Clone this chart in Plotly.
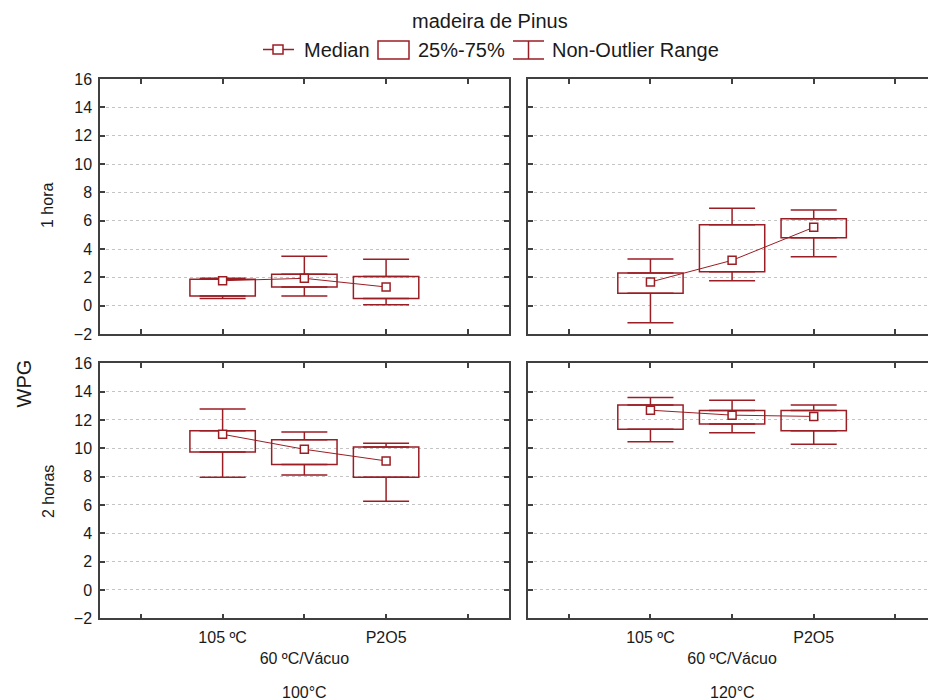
import plotly.graph_objects as go

# ---------------- data ----------------
categories = ["105 ºC", "60 ºC/Vácuo", "P2O5"]
cat_pos = [1, 2, 3]
tick_vals = [0, 1, 2, 3, 4]
tick_text = ["", "105 ºC", "<br>60 ºC/Vácuo", "P2O5", ""]
y_ticks = [-2, 0, 2, 4, 6, 8, 10, 12, 14, 16]

# 100°C, 1 hora
tl_med = [1.76, 1.93, 1.32]
tl_q1 = [0.69, 1.32, 0.50]
tl_q3 = [1.86, 2.22, 2.05]
tl_lo = [0.50, 0.69, 0.07]
tl_hi = [1.93, 3.49, 3.28]

# 120°C, 1 hora
tr_med = [1.67, 3.20, 5.53]
tr_q1 = [0.88, 2.40, 4.80]
tr_q3 = [2.31, 5.72, 6.14]
tr_lo = [-1.20, 1.76, 3.46]
tr_hi = [3.30, 6.87, 6.76]

# 100°C, 2 horas
bl_med = [10.99, 9.93, 9.11]
bl_q1 = [9.74, 8.85, 7.96]
bl_q3 = [11.24, 10.61, 10.09]
bl_lo = [7.96, 8.12, 6.27]
bl_hi = [12.77, 11.15, 10.35]

# 120°C, 2 horas
br_med = [12.69, 12.34, 12.25]
br_q1 = [11.34, 11.71, 11.24]
br_q3 = [13.05, 12.67, 12.67]
br_lo = [10.47, 11.10, 10.28]
br_hi = [13.59, 13.40, 13.05]

RED = "#9A1E24"
TXT = "#1a1a1a"
AX = "#404040"
FONT = "Liberation Sans, Arial, sans-serif"

W, H = 928, 700
def px(x):
    return x / W
def py(y):
    return 1 - y / H

fig = go.Figure()

panels = [
    ("x", "y", tl_med, tl_q1, tl_q3, tl_lo, tl_hi),
    ("x2", "y2", tr_med, tr_q1, tr_q3, tr_lo, tr_hi),
    ("x3", "y3", bl_med, bl_q1, bl_q3, bl_lo, bl_hi),
    ("x4", "y4", br_med, br_q1, br_q3, br_lo, br_hi),
]

for xa, ya, med, q1, q3, lo, hi in panels:
    # upper whisker
    fig.add_trace(go.Scatter(
        x=cat_pos, y=q3, xaxis=xa, yaxis=ya, mode="markers",
        marker=dict(size=1, color="rgba(0,0,0,0)"),
        error_y=dict(type="data", symmetric=False,
                     array=[h - q for h, q in zip(hi, q3)],
                     arrayminus=[0] * len(q3),
                     color=RED, thickness=1.5, width=23),
        showlegend=False, hoverinfo="skip"))
    # lower whisker
    fig.add_trace(go.Scatter(
        x=cat_pos, y=q1, xaxis=xa, yaxis=ya, mode="markers",
        marker=dict(size=1, color="rgba(0,0,0,0)"),
        error_y=dict(type="data", symmetric=False,
                     array=[0] * len(q1),
                     arrayminus=[q - l for q, l in zip(q1, lo)],
                     color=RED, thickness=1.5, width=23),
        showlegend=False, hoverinfo="skip"))
    # 25%-75% boxes
    fig.add_trace(go.Bar(
        x=cat_pos, y=[b - a for a, b in zip(q1, q3)], base=q1,
        xaxis=xa, yaxis=ya, width=0.8,
        marker=dict(color="rgba(0,0,0,0)", line=dict(color=RED, width=1.5)),
        showlegend=False, hoverinfo="skip"))
    # medians
    fig.add_trace(go.Scatter(
        x=cat_pos, y=med, xaxis=xa, yaxis=ya, mode="lines+markers",
        line=dict(color=RED, width=1),
        marker=dict(symbol="square", size=8, color="white",
                    line=dict(color=RED, width=1.5)),
        showlegend=False, hoverinfo="skip"))

xdom_l = [px(100), px(508.7)]
xdom_r = [px(528), 1.0]
ydom_t = [py(334), py(79)]
ydom_b = [py(618.3), py(363.3)]

def xaxis(dom, anchor, labels, rng):
    return dict(domain=dom, anchor=anchor, range=rng,
                tickvals=tick_vals, ticktext=tick_text if labels else [""] * 5,
                ticks="inside", ticklen=5, tickcolor=AX, tickwidth=1.5,
                showline=True, linecolor=AX, linewidth=1.5, mirror="allticks",
                showgrid=False, zeroline=False,
                tickfont=dict(size=16, color=TXT, family=FONT),
                ticklabelstandoff=4)

def yaxis(dom, anchor, labels, mirror):
    return dict(domain=dom, anchor=anchor, range=[-2, 16],
                tickvals=y_ticks, showticklabels=labels,
                ticks="inside", ticklen=5, tickcolor=AX, tickwidth=1.5,
                showline=True, linecolor=AX, linewidth=1.5, mirror=mirror,
                showgrid=True, gridcolor="#c4c4c4", griddash="dot", gridwidth=1,
                zeroline=False,
                tickfont=dict(size=16, color=TXT, family=FONT),
                ticklabelstandoff=3)

rng_l = [-0.5, 4.5]
rng_r = [-0.5, 4.4]

fig.update_layout(
    width=W, height=H,
    margin=dict(l=0, r=0, t=0, b=0, autoexpand=False),
    paper_bgcolor="white", plot_bgcolor="white",
    barmode="overlay",
    showlegend=False,
    font=dict(family=FONT, color=TXT),
    xaxis=xaxis(xdom_l, "y", False, rng_l),
    xaxis2=xaxis(xdom_r, "y2", False, rng_r),
    xaxis3=xaxis(xdom_l, "y3", True, rng_l),
    xaxis4=xaxis(xdom_r, "y4", True, rng_r),
    yaxis=yaxis(ydom_t, "x", True, "allticks"),
    yaxis2=yaxis(ydom_t, "x2", False, False),
    yaxis3=yaxis(ydom_b, "x3", True, "allticks"),
    yaxis4=yaxis(ydom_b, "x4", False, False),
)

ann = []
def A(text, x, y, size, xref="paper", yref="paper", xanchor="center", angle=0):
    ann.append(dict(text=text, x=x, y=y, xref=xref, yref=yref, showarrow=False,
                    xanchor=xanchor, yanchor="middle", textangle=angle,
                    font=dict(size=size, color=TXT, family=FONT)))

A("madeira de Pinus", px(490), py(21), 20)
A("Median", px(302), py(49.5), 20, xanchor="left")
A("25%-75%", px(416), py(49.5), 20, xanchor="left")
A("Non-Outlier Range", px(550), py(49.5), 20, xanchor="left")
A("WPG", px(23.5), py(384), 20, angle=-90)
A("1 hora", px(48), py(206), 16, angle=-90)
A("2 horas", px(48), py(492), 16, angle=-90)
A("100°C", 2, py(692), 16, xref="x3")
A("120°C", 2, py(692), 16, xref="x4")
fig.update_layout(annotations=ann)

shapes = []
def S(kind, x0, y0, x1, y1, fill="rgba(0,0,0,0)"):
    shapes.append(dict(type=kind, xref="paper", yref="paper",
                       x0=px(x0), y0=py(y0), x1=px(x1), y1=py(y1),
                       line=dict(color=RED, width=1.5), fillcolor=fill))

# legend: median symbol
S("line", 263, 49.5, 294, 49.5)
S("rect", 273, 45, 283, 54, fill="white")
# legend: box symbol
S("rect", 378, 41, 409, 59)
# legend: whisker symbol
S("line", 513, 41, 544, 41)
S("line", 513, 59, 544, 59)
S("line", 528.5, 41, 528.5, 59)
fig.update_layout(shapes=shapes)

fig.write_html("out.html")
